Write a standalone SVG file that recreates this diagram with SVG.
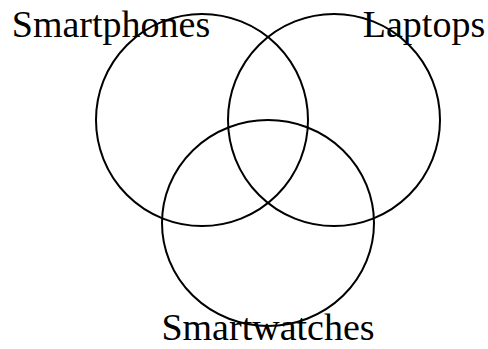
<svg xmlns="http://www.w3.org/2000/svg" width="488" height="349" viewBox="0 0 488 349">
<style>
.c{fill:none;stroke:#000;stroke-width:2}
.t{font-family:"Liberation Serif","Times New Roman",serif;font-size:38px;fill:#000;text-anchor:middle}
</style>
<rect width="488" height="349" fill="#fff"/>
<g id="smartphones"><circle class="c" cx="202" cy="120" r="106"/></g>
<g id="laptops"><circle class="c" cx="334" cy="120" r="106"/></g>
<g id="smartwatches"><ellipse class="c" cx="268" cy="223" rx="106" ry="103"/></g>
<g id="labels">
<text class="t" x="111" y="37">Smartphones</text>
<text class="t" x="424" y="37">Laptops</text>
<text class="t" x="268" y="340">Smartwatches</text>
</g>
</svg>
